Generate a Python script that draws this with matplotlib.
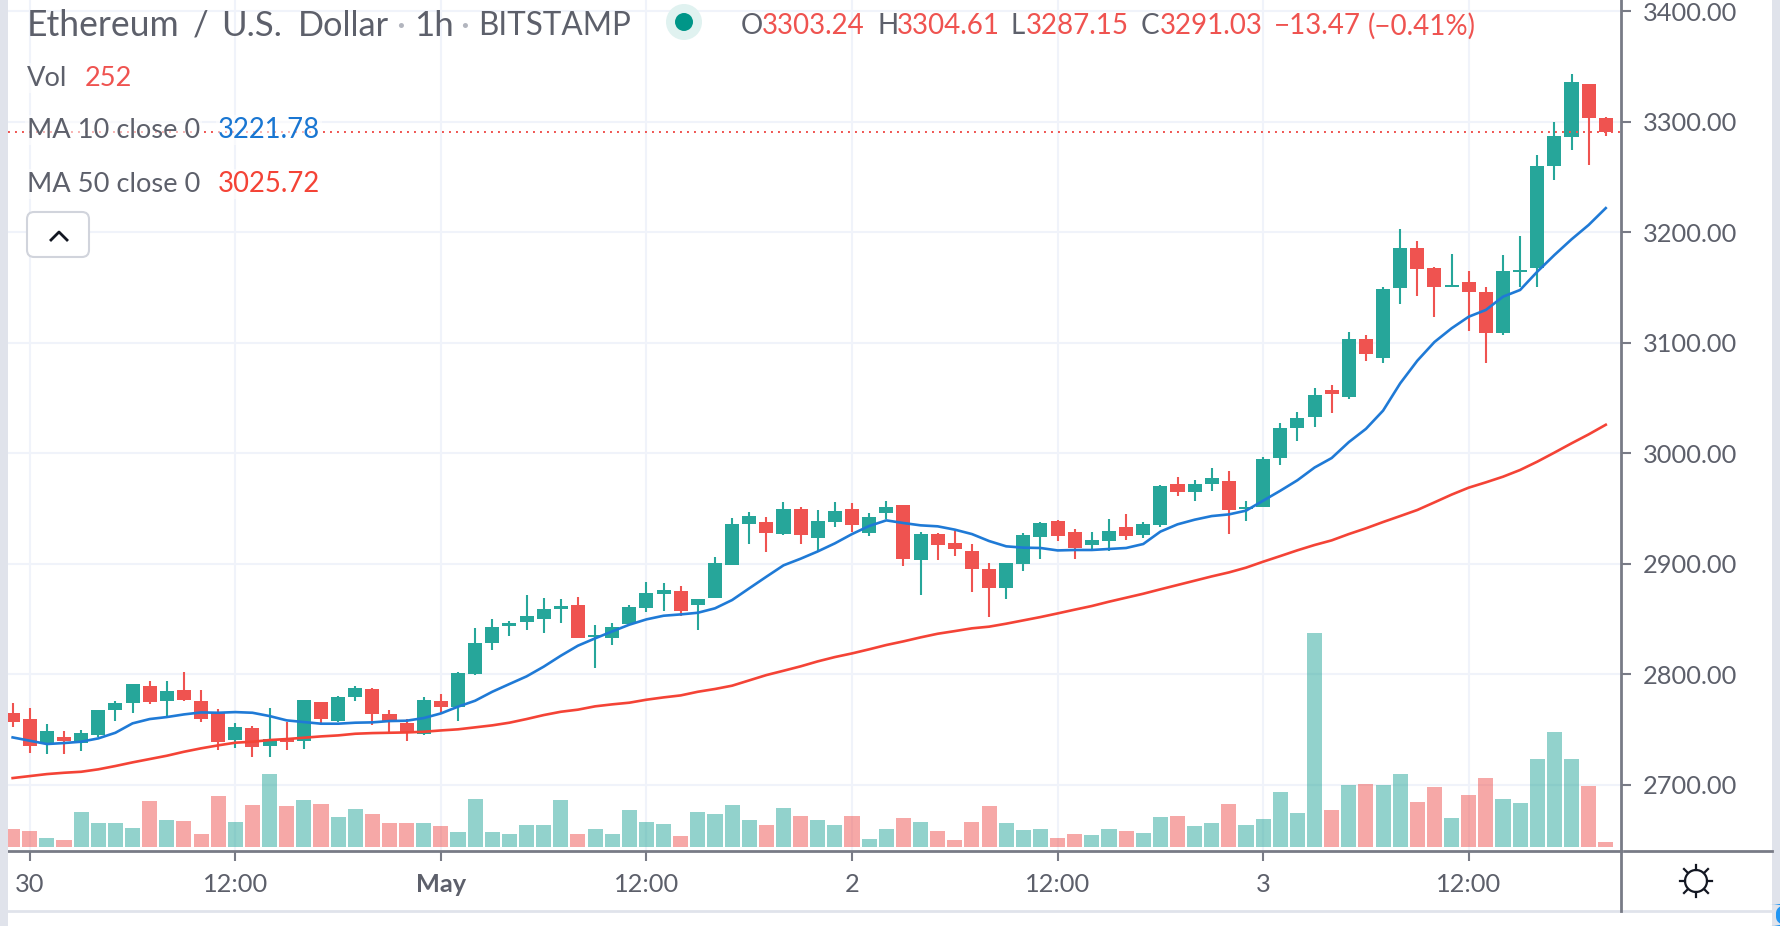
import matplotlib
matplotlib.use("Agg")
import matplotlib.pyplot as plt
from matplotlib.lines import Line2D
from matplotlib.patches import Circle, FancyBboxPatch, Rectangle

W, H = 1780, 926
plt.rcParams["font.family"] = ["Lato", "DejaVu Sans"]

# hours since Apr 30 00:00
hours = list(range(-1, 93))

opens = [2764.5, 2759.1, 2736.5, 2743.1, 2738.0, 2745.2, 2767.5, 2774.2, 2789.0, 2776.0,
         2785.3, 2775.4, 2764.5, 2740.4, 2751.0, 2735.3, 2741.0, 2739.8, 2774.5, 2757.6,
         2779.6, 2786.3, 2763.6, 2755.5, 2746.1, 2775.4, 2770.0, 2800.1, 2828.5, 2843.9,
         2847.5, 2850.2, 2859.0, 2862.3, 2833.3, 2832.4, 2845.4, 2859.9, 2872.5, 2874.9,
         2862.6, 2868.9, 2898.8, 2935.9, 2938.0, 2926.8, 2949.2, 2923.2, 2937.4, 2949.2,
         2928.0, 2945.5, 2952.8, 2903.3, 2926.5, 2918.4, 2911.1, 2894.9, 2878.0, 2899.7,
         2924.1, 2938.3, 2928.3, 2916.6, 2920.5, 2932.9, 2925.6, 2934.7, 2971.8, 2964.5,
         2971.8, 2975.1, 2949.2, 2951.0, 2995.3, 3022.5, 3032.4, 3056.9, 3051.1, 3103.6,
         3086.4, 3149.2, 3186.0, 3167.9, 3150.4, 3154.9, 3146.1, 3108.4, 3163.6, 3167.3,
         3260.2, 3286.4, 3334.1, 3303.24]
highs = [2773.6, 2769.1, 2754.6, 2748.2, 2749.4, 2767.2, 2775.4, 2790.8, 2793.5, 2793.5,
         2801.6, 2785.3, 2768.2, 2755.5, 2753.1, 2769.1, 2756.4, 2776.3, 2774.5, 2780.2,
         2789.0, 2787.5, 2767.2, 2759.1, 2779.0, 2781.7, 2801.6, 2841.5, 2849.6, 2847.8,
         2871.3, 2868.6, 2867.7, 2869.5, 2844.2, 2846.6, 2862.3, 2883.1, 2882.2, 2879.5,
         2867.7, 2905.7, 2941.0, 2946.4, 2941.9, 2955.5, 2951.0, 2948.2, 2955.5, 2954.6,
         2945.5, 2956.4, 2952.8, 2928.6, 2927.4, 2929.5, 2917.5, 2900.3, 2900.3, 2927.4,
         2937.4, 2939.2, 2931.1, 2928.3, 2940.1, 2944.6, 2937.4, 2970.9, 2978.7, 2975.4,
         2986.3, 2984.1, 2956.4, 2996.2, 3027.6, 3037.5, 3059.3, 3061.4, 3109.3, 3106.6,
         3150.1, 3203.2, 3192.3, 3168.8, 3180.5, 3165.1, 3150.1, 3179.6, 3196.8, 3269.8,
         3299.4, 3343.1, 3334.1, 3304.61]
lows = [2752.5, 2729.0, 2728.0, 2728.0, 2730.7, 2742.8, 2757.9, 2765.1, 2773.0, 2761.5,
        2775.7, 2757.0, 2731.4, 2733.5, 2725.3, 2725.3, 2731.4, 2732.6, 2754.3, 2756.4,
        2776.0, 2754.3, 2747.3, 2739.8, 2744.9, 2764.5, 2757.9, 2799.2, 2822.2, 2834.8,
        2839.9, 2837.5, 2846.6, 2832.4, 2805.9, 2826.4, 2844.8, 2855.9, 2857.4, 2852.6,
        2839.9, 2868.9, 2898.8, 2917.5, 2910.5, 2925.6, 2917.5, 2911.1, 2932.9, 2928.3,
        2924.7, 2940.7, 2897.9, 2871.6, 2903.3, 2906.6, 2874.3, 2851.7, 2868.0, 2893.3,
        2904.2, 2920.2, 2904.2, 2913.0, 2911.4, 2921.1, 2922.9, 2932.9, 2960.9, 2956.4,
        2966.0, 2926.8, 2938.3, 2951.0, 2989.0, 3010.7, 3023.4, 3036.6, 3049.3, 3083.1,
        3081.9, 3135.3, 3142.5, 3123.5, 3150.1, 3110.8, 3081.9, 3106.6, 3150.7, 3150.7,
        3247.2, 3274.7, 3260.8, 3287.15]
closes = [2757.0, 2735.3, 2748.2, 2739.5, 2746.4, 2767.2, 2773.6, 2790.8, 2774.8, 2784.4,
          2776.6, 2759.7, 2738.9, 2751.9, 2734.4, 2741.0, 2738.6, 2776.3, 2759.4, 2779.0,
          2787.2, 2764.2, 2757.0, 2747.3, 2776.3, 2770.6, 2800.7, 2827.9, 2842.4, 2846.0,
          2852.3, 2858.7, 2861.4, 2833.0, 2835.1, 2843.0, 2860.5, 2873.1, 2875.8, 2857.1,
          2867.7, 2900.3, 2935.6, 2942.8, 2927.7, 2949.8, 2925.9, 2938.3, 2947.3, 2935.0,
          2941.9, 2951.0, 2904.2, 2926.8, 2916.9, 2913.0, 2895.2, 2878.0, 2900.3, 2925.6,
          2936.5, 2924.7, 2913.9, 2921.1, 2929.2, 2924.7, 2935.6, 2970.0, 2964.8, 2971.8,
          2977.2, 2948.6, 2951.6, 2994.4, 3022.5, 3031.5, 3052.9, 3053.2, 3103.6, 3089.4,
          3148.9, 3186.0, 3166.4, 3150.1, 3152.2, 3146.1, 3108.4, 3165.1, 3166.1, 3260.2,
          3287.0, 3335.9, 3303.6, 3291.03]
volumes = [907, 806, 454, 353, 1764, 1210, 1210, 958, 2318, 1361,
           1310, 655, 2570, 1260, 2117, 3679, 2066, 2369, 2167, 1512,
           1915, 1663, 1210, 1210, 1210, 1058, 756, 2419, 756, 655,
           1109, 1109, 2369, 655, 907, 655, 1865, 1260, 1159, 554,
           1764, 1663, 2117, 1361, 1109, 1966, 1562, 1361, 1109, 1562,
           403, 907, 1462, 1260, 806, 353, 1260, 2066, 1210, 857,
           907, 454, 655, 605, 907, 806, 706, 1512, 1562, 1058,
           1210, 2167, 1109, 1411, 2772, 1714, 10786, 1865, 3125, 3175,
           3125, 3679, 2268, 3024, 1462, 2621, 3478, 2419, 2218, 4435,
           5796, 4435, 3074, 252]
ma10 = [2742.8, 2739.8, 2736.8, 2737.7, 2738.9, 2741.9, 2747.0, 2755.5, 2759.4, 2761.2,
        2763.6, 2765.4, 2765.1, 2765.7, 2765.1, 2762.1, 2758.2, 2756.7, 2755.2, 2755.2,
        2756.1, 2756.4, 2757.6, 2757.9, 2760.3, 2764.5, 2770.6, 2776.0, 2784.1, 2791.1,
        2798.0, 2806.8, 2816.7, 2825.8, 2832.4, 2838.7, 2844.8, 2849.6, 2852.9, 2854.1,
        2855.6, 2859.6, 2867.1, 2877.7, 2888.2, 2898.5, 2904.5, 2911.1, 2918.4, 2926.8,
        2934.1, 2939.2, 2936.8, 2934.7, 2933.8, 2930.8, 2926.8, 2920.5, 2915.7, 2914.5,
        2914.2, 2912.0, 2912.4, 2912.4, 2913.3, 2914.2, 2917.8, 2929.0, 2935.6, 2939.8,
        2943.1, 2944.6, 2948.0, 2957.0, 2966.0, 2975.5, 2987.0, 2995.6, 3010.0, 3022.0,
        3038.5, 3063.2, 3083.7, 3100.6, 3113.0, 3123.5, 3129.6, 3141.6, 3147.7, 3164.2,
        3179.3, 3193.5, 3206.5, 3221.78]
ma50 = [2706.0, 2707.8, 2709.6, 2710.8, 2711.7, 2713.9, 2716.9, 2720.2, 2723.2, 2726.2,
        2729.8, 2732.9, 2735.6, 2738.0, 2738.9, 2740.4, 2741.3, 2742.5, 2743.7, 2744.6,
        2746.1, 2746.7, 2747.0, 2747.3, 2747.9, 2749.1, 2750.1, 2751.9, 2753.7, 2756.1,
        2759.4, 2763.0, 2766.0, 2767.9, 2770.9, 2772.7, 2774.2, 2776.9, 2779.0, 2780.8,
        2784.1, 2786.6, 2789.6, 2794.4, 2799.2, 2803.1, 2807.1, 2811.6, 2815.5, 2818.8,
        2822.5, 2826.4, 2829.7, 2833.3, 2836.6, 2839.0, 2841.5, 2843.0, 2845.7, 2848.7,
        2851.7, 2855.0, 2858.4, 2861.7, 2865.6, 2869.2, 2872.8, 2876.8, 2880.7, 2884.6,
        2888.5, 2892.1, 2896.4, 2901.8, 2906.9, 2912.1, 2916.9, 2921.1, 2926.8, 2932.0,
        2937.7, 2943.1, 2948.6, 2955.5, 2962.5, 2968.8, 2973.6, 2978.7, 2984.8, 2992.3,
        3000.5, 3008.9, 3017.0, 3025.72]

price_ticks = [2700, 2800, 2900, 3000, 3100, 3200, 3300, 3400]
time_ticks = [0, 12, 24, 36, 48, 60, 72, 84]
time_labels = ["30", "12:00", "May", "12:00", "2", "12:00", "3", "12:00"]

UP = "#26a69a"
DOWN = "#ef5350"
TXT = "#5d606b"
AXIS = "#787b86"
GRID = "#f0f3fa"
CHROME = "#e0e3eb"


def fx(x):
    return x / W


def fy(y):
    return 1 - y / H


def chrome_line(x0, y0, x1, y1, color=AXIS, lw=1.5):
    fig.add_artist(Line2D([fx(x0), fx(x1)], [fy(y0), fy(y1)], color=color, lw=lw))


def label(x, y, s, color=TXT, size=19.6, **kw):
    return fig.text(fx(x), fy(y), s, color=color, fontsize=size, va="center", **kw)


fig = plt.figure(figsize=((W + 0.01) / 100, (H + 0.01) / 100), dpi=100, facecolor="white")
ax = fig.add_axes([fx(8), fy(851), fx(1621 - 8), 851 / H])
vol_ax = ax.twinx()

colors = [UP if c >= o else DOWN for o, c in zip(opens, closes)]

ax.vlines(hours, lows, highs, color=colors, lw=1.5, zorder=3)
ax.bar(hours, [abs(c - o) for o, c in zip(opens, closes)],
       bottom=[min(o, c) for o, c in zip(opens, closes)],
       width=0.82, color=colors, zorder=4, linewidth=0)
ax.plot(hours, ma10, color="#1f7ad6", lw=1.9, zorder=5)
ax.plot(hours, ma50, color="#f44336", lw=1.9, zorder=5)
ax.axhline(closes[-1], color=DOWN, lw=1.4, ls=(0, (1, 2.6)), zorder=6)

vol_ax.bar(hours, volumes, width=0.88, color=colors, alpha=0.5, linewidth=0)
vol_ax.set_ylim(-200, 42689)
vol_ax.axis("off")

ax.set_xlim(-1.27, 92.89)
ax.set_ylim(2640, 3410.1)
ax.set_xticks(time_ticks)
ax.set_xticklabels(time_labels)
ax.set_yticks(price_ticks)
ax.set_yticklabels([f"{p:.2f}" for p in price_ticks])
ax.yaxis.tick_right()
ax.tick_params(axis="both", colors=AXIS, labelcolor=TXT, labelsize=18.3,
               length=7.5, width=1.5)
ax.tick_params(axis="y", pad=8)
ax.tick_params(axis="x", pad=8)
ax.get_xticklabels()[2].set_fontweight("bold")
ax.grid(color=GRID, lw=1.5)
ax.set_axisbelow(True)
for side in ["top", "left"]:
    ax.spines[side].set_visible(False)
for side in ["right", "bottom"]:
    ax.spines[side].set_color(AXIS)
    ax.spines[side].set_linewidth(2)

# page edges and the price/time corner
fig.add_artist(Rectangle((0, 0), fx(8), 1, color=CHROME, lw=0))
fig.add_artist(Rectangle((fx(1772), 0), 1 - fx(1772), 1, color=CHROME, lw=0))
chrome_line(8, 911, 1772, 911, CHROME, 2)
chrome_line(1621, 851, 1621, 911, AXIS, 2)
chrome_line(1624, 851, 1772, 851, AXIS, 2)
fig.add_artist(FancyBboxPatch((fx(1776), fy(926)), fx(12), 22 / H,
                              boxstyle="round,pad=0,rounding_size=0.01",
                              color="#2196f3", lw=0))

# header row, wider word gaps than the font gives
box = dict(facecolor="white", alpha=0.55, edgecolor="none", pad=1.5)
for x, s, sz in [(27, "Ethereum", 25.6), (193, "/", 25), (221, "U.S.", 25), (298, "Dollar", 24.7),
                 (414, "1h", 25), (478, "BITSTAMP", 22.7)]:
    label(x, 25.5, s, size=sz)
label(396, 25.5, "·", color="#b2b5be", size=25)
label(460, 25.5, "·", color="#b2b5be", size=25)
dot = fig.add_axes([fx(664), fy(42), 40 / W, 40 / H])
dot.set_xlim(-20, 20)
dot.set_ylim(-20, 20)
dot.axis("off")
dot.add_patch(Circle((0, 0), 18, color="#e0f2f0", lw=0))
dot.add_patch(Circle((0, 0), 9, color="#009688", lw=0))

for x, s, c in [(741, "O", TXT), (762, "3303.24", DOWN), (877, "H", TXT), (897, "3304.61", DOWN),
                (1010, "L", TXT), (1026, "3287.15", DOWN), (1141, "C", TXT), (1160, "3291.03", DOWN),
                (1274, "−13.47", DOWN), (1368, "(−0.41%)", DOWN)]:
    label(x, 26, s, color=c, size=20)

# indicator legend
label(27, 78, "Vol", bbox=box)
label(85, 78, "252", color=DOWN, bbox=box)
label(27, 130, "MA 10 close 0", bbox=box)
label(218, 130, "3221.78", color="#1976d2", size=19.8, bbox=box)
label(27, 184, "MA 50 close 0", bbox=box)
label(218, 184, "3025.72", color="#f44336", size=19.8, bbox=box)

# collapse button
fig.add_artist(FancyBboxPatch((fx(27), fy(257)), 62 / W, 45 / H,
                              boxstyle="round,pad=0,rounding_size=0.004",
                              facecolor="white", edgecolor="#d1d4dc", lw=1.5,
                              transform=fig.transFigure, mutation_aspect=W / H))
fig.add_artist(Line2D([fx(51), fx(59), fx(67)], [fy(240), fy(232), fy(240)],
                      color="#131722", lw=2))

# settings icon
sun = fig.add_axes([fx(1676), fy(901), 40 / W, 40 / H])
sun.set_xlim(-20, 20)
sun.set_ylim(-20, 20)
sun.axis("off")
sun.add_patch(Circle((0, 0), 11, facecolor="none", edgecolor="#131722", lw=1.6))
for a, b, c, d in [(0, 11, 0, 16), (0, -11, 0, -16), (11, 0, 16, 0), (-11, 0, -16, 0),
                   (8, 8, 12, 12), (-8, 8, -12, 12), (8, -8, 12, -12), (-8, -8, -12, -12)]:
    sun.plot([a, c], [b, d], color="#131722", lw=1.6)

fig.savefig("out.png", dpi=100, facecolor="white")
